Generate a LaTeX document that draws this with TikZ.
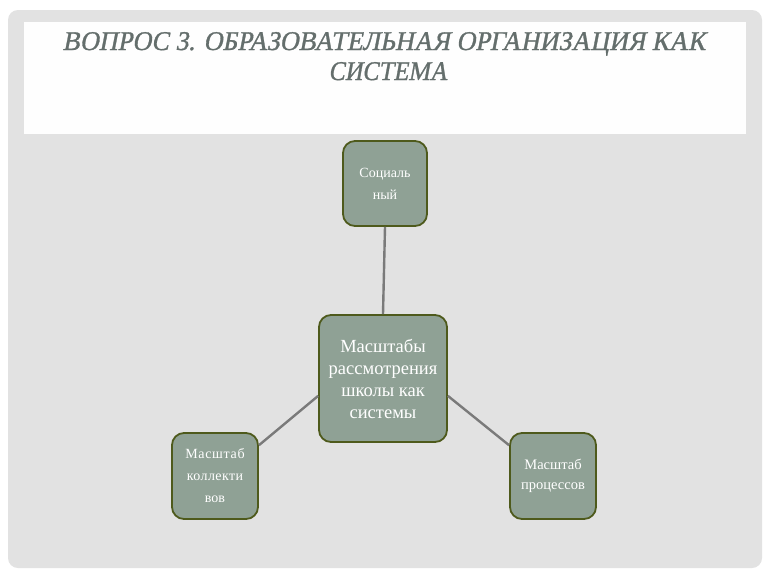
\documentclass[tikz,border=0pt]{standalone}
\usepackage{fontspec}
\setmainfont{Liberation Serif}
\newfontfamily\ttlfont[FakeBold=1.2,FakeSlant=0.2]{Liberation Serif}
\definecolor{panel}{HTML}{E2E2E2}
\definecolor{boxfill}{HTML}{8FA195}
\definecolor{boxline}{HTML}{4E5A1C}
\definecolor{conn}{HTML}{7A7A7A}
\definecolor{titlecol}{HTML}{646E6C}
\tikzset{
  box/.style={draw=boxline, line width=1.8pt, fill=boxfill, rounded corners=12pt,
    text=white, align=center, inner sep=0pt},
  link/.style={draw=conn, line width=2.4pt},
  ttl/.style={font=\ttlfont\fontsize{27}{30}\selectfont, text=titlecol, anchor=base, inner sep=0pt},
}
\begin{document}
\begin{tikzpicture}[x=1pt,y=-1pt]
\useasboundingbox (0,0) rectangle (768,576);
\fill[white] (0,0) rectangle (768,576);
\fill[panel, rounded corners=10pt] (8,10) rectangle (762,568);
\fill[white!98!panel] (24,22) rectangle (746,134);
\node[ttl] (title1) at (384,50) {\scalebox{0.965}[1]{ВОПРОС 3. ОБРАЗОВАТЕЛЬНАЯ ОРГАНИЗАЦИЯ КАК}};
\node[ttl] (title2) at (388,80) {\scalebox{0.9}[1]{СИСТЕМА}};
\node[box, minimum width=84pt, minimum height=85pt, font=\fontsize{14}{22}\selectfont] (soc) at (385,183.5) {Социаль\\ный};
\node[box, minimum width=128pt, minimum height=127pt, font=\fontsize{18.5}{22}\selectfont] (center) at (383,378.5) {Масштабы\\рассмотрения\\школы как\\системы};
\node[box, minimum width=86pt, minimum height=86pt, font=\fontsize{14}{22}\selectfont] (left) at (215,476) {\addfontfeature{LetterSpace=5}Масштаб\\\addfontfeature{LetterSpace=3}коллекти\\вов};
\node[box, minimum width=86pt, minimum height=86pt, font=\fontsize{14.5}{20}\selectfont] (right) at (553,476) {Масштаб\\процессов};
\draw[link] (soc.south) -- (center.north);
\draw[link] (center.195) -- (left.35);
\draw[link] (center.-15) -- (right.145);
\end{tikzpicture}
\end{document}
